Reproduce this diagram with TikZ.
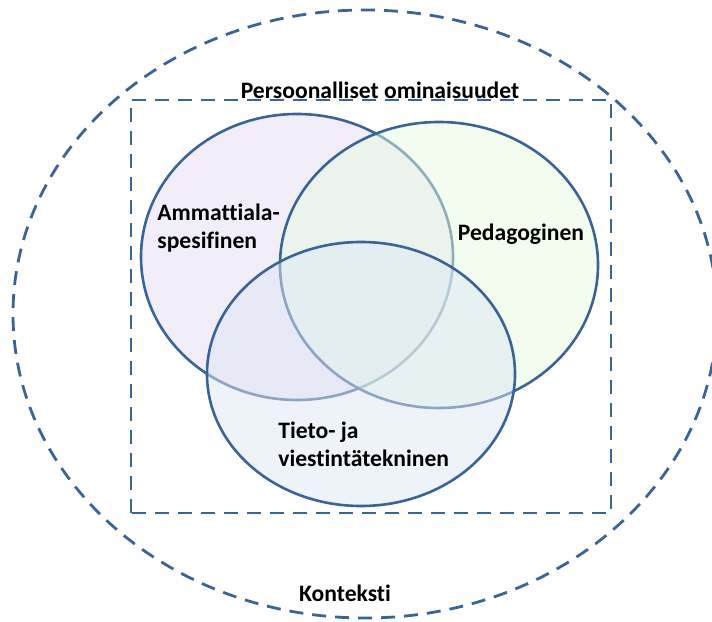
\documentclass[tikz,border=0pt]{standalone}
\usepackage{fontspec}
\setmainfont{Carlito}[Ligatures=NoCommon]
\usepackage{xcolor}
\usepackage{tikz}
\usetikzlibrary{positioning}

\definecolor{edgeblue}{RGB}{59,100,150}
\definecolor{fillA}{RGB}{227,221,245}
\definecolor{fillB}{RGB}{229,249,223}
\definecolor{fillC}{RGB}{221,231,243}

\tikzset{
  venn/.style={draw=edgeblue, line width=1.3pt, fill opacity=0.5},
  frame/.style={draw=edgeblue, line width=1.4pt, dash pattern=on 7pt off 4.5pt},
  lbl/.style={font=\bfseries\fontsize{11.8}{14}\selectfont, inner sep=0pt, align=left}
}

\begin{document}
\begin{tikzpicture}[x=0.5pt, y=0.5pt]
\useasboundingbox (0,0) rectangle (712,621);

% Context (outer dashed ellipse) and the personal frame
\draw[frame] (365,307) ellipse (352 and 304);
\draw[frame] (131,108) rectangle (611,521);

% Three overlapping areas
\draw[venn, fill=fillA] (297,364) ellipse (156 and 143);
\draw[venn, fill=fillB] (439,356) ellipse (159 and 143);
\draw[venn, fill=fillC] (361,247) ellipse (154 and 132);

% Labels
\node[lbl] (persoona) at (380,531) {Persoonalliset ominaisuudet};
\node[lbl, anchor=west] (ammatti) at (157,393) {Ammattiala-\\spesifinen};
\node[lbl] (pedagog) at (521,387) {Pedagoginen};
\node[lbl, anchor=west] (tvt) at (278,177) {Tieto- ja\\viestintätekninen};
\node[lbl] (konteksti) at (345,28) {Konteksti};
\end{tikzpicture}
\end{document}
